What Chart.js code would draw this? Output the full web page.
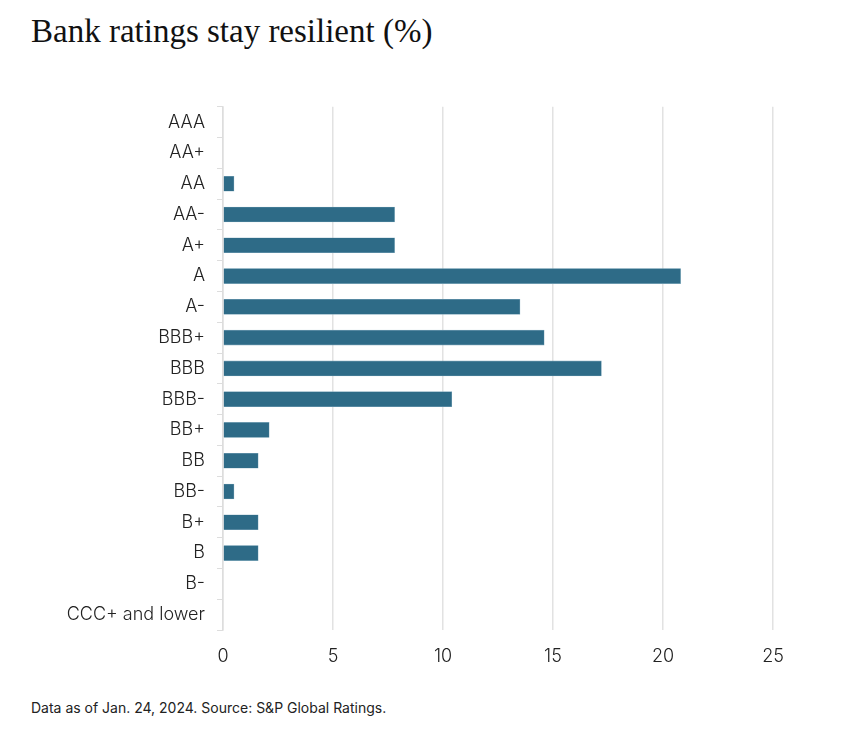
<!DOCTYPE html>
<html>
<head>
<meta charset="utf-8">
<script src="https://cdn.jsdelivr.net/npm/chart.js@4.4.1/dist/chart.umd.min.js"></script>
<style>
  body { margin: 0; background: #fff; width: 848px; height: 746px; position: relative; overflow: hidden; }
  #title { position: absolute; left: 31px; top: 13px; font-family: "Liberation Serif", "DejaVu Serif", serif; font-size: 33px; color: #111; }
  #wrap { position: absolute; left: 0; top: 84px; width: 848px; height: 601px; }
  #note { position: absolute; left: 31px; top: 699px; font-family: "Inter", "Roboto", sans-serif; font-size: 14px; color: #222; }
</style>
</head>
<body>
<div id="title">Bank ratings stay resilient (%)</div>
<div id="wrap"><canvas id="ratingsChart" width="848" height="601"></canvas></div>
<div id="note">Data as of Jan. 24, 2024. Source: S&amp;P Global Ratings.</div>
<script>
const ratings = ['AAA', 'AA+', 'AA', 'AA-', 'A+', 'A', 'A-', 'BBB+', 'BBB', 'BBB-', 'BB+', 'BB', 'BB-', 'B+', 'B', 'B-', 'CCC+ and lower'];
const shares = [0, 0, 0.5, 7.8, 7.8, 20.8, 13.5, 14.6, 17.2, 10.4, 2.1, 1.6, 0.5, 1.6, 1.6, 0, 0];
const xTicks = [0, 5, 10, 15, 20, 25];

const font = { family: 'Inter, Roboto, sans-serif', size: 18, weight: 300 };

new Chart(document.getElementById('ratingsChart').getContext('2d'), {
    type: 'bar',
    data: {
        labels: ratings,
        datasets: [{
            data: shares,
            backgroundColor: '#2e6b87',
            borderColor: '#7fa7ba',
            borderWidth: 0.6,
            barThickness: 15
        }]
    },
    options: {
        indexAxis: 'y',
        responsive: false,
        animation: false,
        layout: { padding: { left: 0, right: 75, top: 4, bottom: 0 } },
        plugins: { legend: { display: false }, tooltip: { enabled: false } },
        scales: {
            x: {
                min: 0,
                max: 25,
                afterBuildTicks: (scale) => { scale.ticks = xTicks.map(v => ({ value: v })); },
                afterFit: (scale) => { scale.height = 55; },
                grid: { color: '#e2e2e2', lineWidth: 1.5, drawTicks: false },
                border: { display: false },
                ticks: { color: '#222', font: font, padding: 16 }
            },
            y: {
                afterFit: (scale) => { scale.width = 223; },
                grid: { offset: true, drawOnChartArea: false, color: '#dddddd', tickLength: 6 },
                border: { color: '#dddddd', width: 1.5 },
                ticks: { color: '#222', font: font, padding: 12 }
            }
        }
    }
});
</script>
</body>
</html>
